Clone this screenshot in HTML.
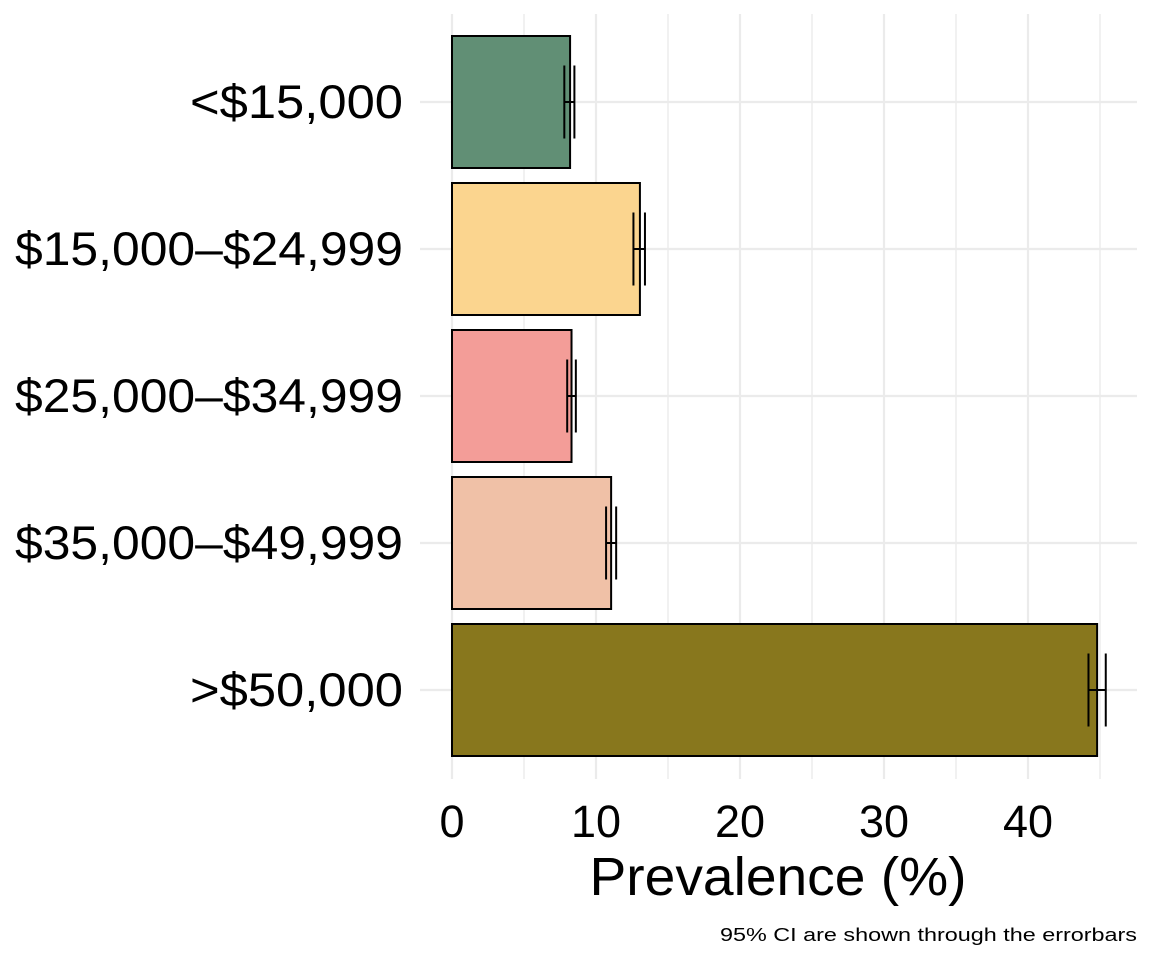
<!DOCTYPE html>
<html><head><meta charset="utf-8"><style>
html,body{margin:0;padding:0;background:#fff;}
svg{display:block;font-family:"Liberation Sans",sans-serif;}
</style></head><body>
<svg id="chart" width="1152" height="960" viewBox="0 0 1152 960">
<g id="grid"></g>
<g id="bars"></g>
<g id="errs"></g>
<g id="ylab"></g>
<g id="xlab"></g>
<text x="778" y="895" font-size="54" text-anchor="middle" textLength="377" lengthAdjust="spacingAndGlyphs">Prevalence (%)</text>
<text x="1137" y="941" font-size="18" text-anchor="end" textLength="417" lengthAdjust="spacingAndGlyphs">95% CI are shown through the errorbars</text>
</svg>
<script>
const categories = ["<$15,000","$15,000–$24,999","$25,000–$34,999","$35,000–$49,999",">$50,000"];
const values = [8.2, 13.05, 8.3, 11.05, 44.8];
const lower = [7.8, 12.6, 8.0, 10.7, 44.2];
const upper = [8.5, 13.4, 8.6, 11.4, 45.4];
const colors = ["#618f75","#fbd58f","#f39d98","#f0c1a7","#88771d"];
const xTicks = [0,10,20,30,40];
const labelWidths = [213,388,388,388,213];

const NS="http://www.w3.org/2000/svg";
const x0=452, pxPer=14.4, yTop=102, step=147, barH=132, capH=73;
const X=v=>x0+v*pxPer;
const Y=i=>yTop+i*step;
function mk(tag,attrs,parent){const e=document.createElementNS(NS,tag);for(const k in attrs)e.setAttribute(k,attrs[k]);parent.appendChild(e);return e;}
const grid=document.getElementById('grid');
for(let v=0;v<=45;v+=5){
  const l=mk('line',{x1:X(v),x2:X(v),y1:14,y2:779,stroke:'#ebebeb','stroke-width':v%10===0?2.2:1.4},grid);
  
  
}
categories.forEach((c,i)=>{
  const l=mk('line',{x1:420,x2:1137,y1:Y(i),y2:Y(i),stroke:'#ebebeb','stroke-width':2.2},grid);
  
  
});
const bars=document.getElementById('bars'), errs=document.getElementById('errs'), ylab=document.getElementById('ylab');
categories.forEach((c,i)=>{
  const r=mk('rect',{x:X(0),y:Y(i)-barH/2,width:X(values[i])-X(0),height:barH,fill:colors[i],stroke:'#000','stroke-width':2},bars);
  
  
  const g=mk('g',{stroke:'#000','stroke-width':2},errs);
  
  
  mk('line',{x1:X(lower[i]),x2:X(lower[i]),y1:Y(i)-capH/2,y2:Y(i)+capH/2},g);
  mk('line',{x1:X(upper[i]),x2:X(upper[i]),y1:Y(i)-capH/2,y2:Y(i)+capH/2},g);
  mk('line',{x1:X(lower[i]),x2:X(upper[i]),y1:Y(i),y2:Y(i)},g);
  const t=mk('text',{x:403,y:Y(i)+16,'font-size':47,'text-anchor':'end',textLength:labelWidths[i],lengthAdjust:'spacingAndGlyphs'},ylab);
  t.textContent=c;
  
  
});
const xlab=document.getElementById('xlab');
xTicks.forEach(v=>{
  const t=mk('text',{x:X(v),y:837,'font-size':45,'text-anchor':'middle'},xlab);
  t.textContent=v;
  
  
});
</script>
</body></html>
